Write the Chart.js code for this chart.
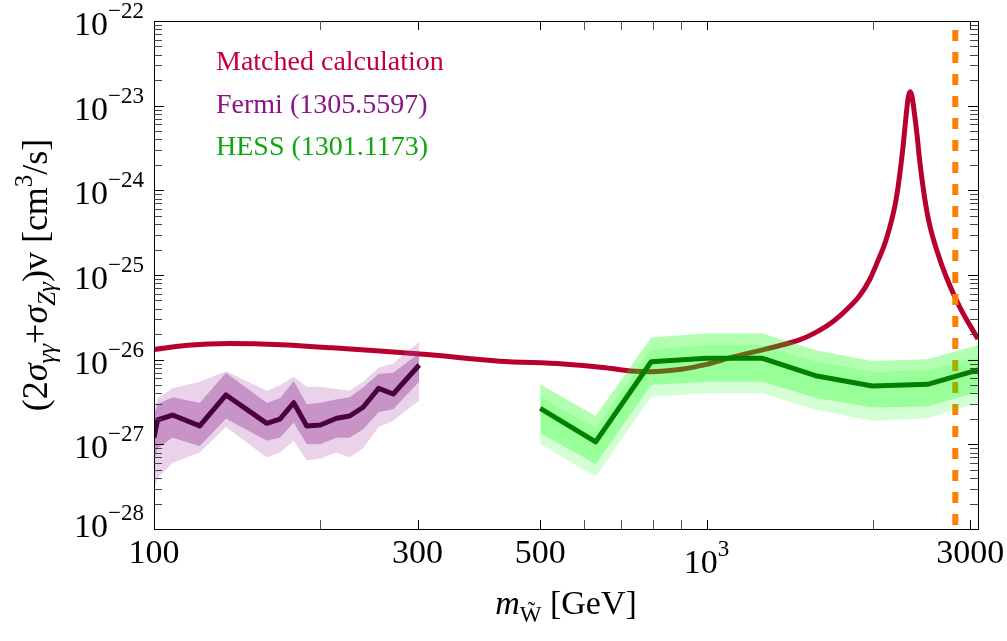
<!DOCTYPE html>
<html>
<head>
<meta charset="utf-8">
<script src="https://cdn.jsdelivr.net/npm/chart.js@4.4.1/dist/chart.umd.min.js"></script>
<style>
  html, body { margin: 0; padding: 0; background: #fff; }
</style>
</head>
<body>
<canvas id="plot" width="1007" height="641"></canvas>
<script>
// matched calculation (red curve)
const redMass = [100, 115, 137, 170, 210, 260, 316, 422, 550, 650, 730, 790, 900, 1000, 1114, 1284, 1473, 1568, 1690, 1798, 1891, 1972, 2038, 2113, 2203, 2265, 2303, 2319, 2336, 2348, 2359, 2378, 2408, 2428, 2479, 2532, 2617, 2716, 2867, 3100];
const redValue = [1.32e-26, 1.48e-26, 1.55e-26, 1.5e-26, 1.38e-26, 1.26e-26, 1.14e-26, 9.6e-27, 8.9e-27, 8.1e-27, 7.35e-27, 7.2e-27, 7.7e-27, 8.8e-27, 1.07e-26, 1.34e-26, 1.71e-26, 2.06e-26, 2.79e-26, 3.97e-26, 5.65e-26, 8.73e-26, 1.42e-25, 2.59e-25, 7.7e-25, 3.0e-24, 8.88e-24, 1.27e-23, 1.46e-23, 1.37e-23, 1.2e-23, 8.19e-24, 4.15e-24, 2.41e-24, 8.57e-25, 4.0e-25, 1.87e-25, 9.47e-26, 4.3e-26, 1.75e-26];

// Fermi limit with 1 and 2 sigma bands
const fermiMass = [100, 101.5, 108, 121, 135, 160, 169, 179, 189, 200, 214, 226, 239, 255, 271, 302];
const fermiLine = [1.2e-27, 1.94e-27, 2.22e-27, 1.65e-27, 3.83e-27, 1.77e-27, 1.98e-27, 3.1e-27, 1.65e-27, 1.69e-27, 2.03e-27, 2.16e-27, 2.74e-27, 4.59e-27, 3.93e-27, 8.65e-27];
const fermiHi2 = [2.6e-27, 3.5e-27, 4.6e-27, 5.5e-27, 7.3e-27, 4.3e-27, 5.0e-27, 6.3e-27, 4.8e-27, 4.8e-27, 4.5e-27, 4.3e-27, 5.5e-27, 8.0e-27, 9.0e-27, 1.63e-26];
const fermiHi1 = [2.2e-27, 3.0e-27, 3.6e-27, 3.1e-27, 7.0e-27, 3.1e-27, 3.5e-27, 5.6e-27, 3.0e-27, 3.1e-27, 3.4e-27, 3.6e-27, 4.7e-27, 6.8e-27, 7.0e-27, 1.2e-26];
const fermiLo1 = [6.5e-28, 9e-28, 1.2e-27, 9.5e-28, 2.0e-27, 1.1e-27, 1.2e-27, 1.8e-27, 1.0e-27, 1.0e-27, 1.2e-27, 1.2e-27, 1.5e-27, 2.4e-27, 2.6e-27, 5.5e-27];
const fermiLo2 = [3.1e-28, 4e-28, 6e-28, 8e-28, 1.6e-27, 7e-28, 8e-28, 1.1e-27, 6.5e-28, 6.8e-28, 8e-28, 7e-28, 9e-28, 1.6e-27, 1.9e-27, 3.3e-27];

// HESS limit with 1 and 2 sigma bands
const hessMass = [500, 630, 794, 1000, 1259, 1585, 1995, 2512, 3100];
const hessLine = [2.66e-27, 1.07e-27, 9.46e-27, 1.04e-26, 1.04e-26, 6.41e-27, 4.89e-27, 5.12e-27, 7.55e-27];
const hessHi2 = [5.11e-27, 2.16e-27, 1.83e-26, 2.05e-26, 2.05e-26, 1.28e-26, 9.64e-27, 1.01e-26, 1.49e-26];
const hessHi1 = [3.72e-27, 1.57e-27, 1.34e-26, 1.49e-26, 1.49e-26, 9.47e-27, 7.21e-27, 7.55e-27, 1.08e-26];
const hessLo1 = [1.35e-27, 5.86e-28, 5.02e-27, 5.5e-27, 5.5e-27, 3.49e-27, 2.73e-27, 2.79e-27, 4.19e-27];
const hessLo2 = [1.01e-27, 4.15e-28, 3.66e-27, 4.0e-27, 4.0e-27, 2.54e-27, 1.89e-27, 2.03e-27, 3.05e-27];

// vertical dashed line
const limitMass = [2820];

// axes
const xTickValues = [100, 300, 500, 1000, 3000];
const xTickText = ['100', '300', '500', '10^3', '3000'];
const xTickMarks = [200, 300, 500, 600, 700, 800, 900, 1000, 2000, 3000];
const yTickValues = [1e-28, 1e-27, 1e-26, 1e-25, 1e-24, 1e-23, 1e-22];
const yTickText = ['10^\u221228', '10^\u221227', '10^\u221226', '10^\u221225', '10^\u221224', '10^\u221223', '10^\u221222'];

const legendText = ['Matched calculation', 'Fermi (1305.5597)', 'HESS (1301.1173)'];
const legendColor = ['#c4003a', '#8a128a', '#12a612'];

const serif = '"Liberation Serif", "DejaVu Serif", serif';
const clear = 'rgba(0,0,0,0)';

function pts(xs, ys) {
    return xs.map((x, i) => ({ x: x, y: ys[i] }));
}

function band(xs, ys, fill, color) {
    return {
        data: pts(xs, ys),
        borderColor: clear,
        borderWidth: 0,
        backgroundColor: color,
        fill: fill,
        pointRadius: 0
    };
}

// draw a row of text pieces [{t, f, dy}] starting at x
function drawRuns(ctx, parts, x, y, align) {
    let total = 0;
    parts.forEach(p => { ctx.font = p.f; p.w = ctx.measureText(p.t).width; total += p.w; });
    let cx = x;
    if (align === 'center') cx = x - total / 2;
    if (align === 'right') cx = x - total;
    parts.forEach(p => {
        ctx.font = p.f;
        ctx.fillText(p.t, cx, y + (p.dy || 0));
        cx += p.w;
    });
}

function powerParts(txt) {
    const s = txt.split('^');
    const parts = [{ t: s[0], f: '34px ' + serif }];
    if (s[1]) parts.push({ t: s[1], f: '23px ' + serif, dy: -17 });
    return parts;
}

const framePlugin = {
    id: 'frame',
    afterDraw(chart) {
        const { ctx, chartArea: a, scales: { x, y } } = chart;
        ctx.save();
        ctx.strokeStyle = '#000';
        ctx.lineWidth = 1;
        ctx.strokeRect(a.left + 0.5, a.top + 0.5, a.right - a.left, a.bottom - a.top);

        // x ticks (bottom and top, inward)
        xTickMarks.forEach(m => {
            const px = Math.round(x.getPixelForValue(m)) + 0.5;
            ctx.strokeStyle = [300, 500, 1000, 3000].includes(m) ? '#000' : '#555';
            ctx.beginPath();
            ctx.moveTo(px, a.bottom); ctx.lineTo(px, a.bottom - 9);
            ctx.moveTo(px, a.top); ctx.lineTo(px, a.top + 9);
            ctx.stroke();
        });

        // y ticks (left and right, inward)
        for (let d = -28; d < -22; d++) {
            for (let k = 1; k <= 9; k++) {
                const v = k * Math.pow(10, d);
                const py = Math.round(y.getPixelForValue(v)) + 0.5;
                const len = k === 1 ? 10 : 8;
                ctx.strokeStyle = k === 1 ? '#000' : '#444';
                ctx.beginPath();
                ctx.moveTo(a.left, py); ctx.lineTo(a.left + len, py);
                ctx.moveTo(a.right, py); ctx.lineTo(a.right - len, py);
                ctx.stroke();
            }
        }

        // tick labels
        ctx.fillStyle = '#000';
        ctx.textBaseline = 'alphabetic';
        xTickValues.forEach((m, i) => {
            const px = x.getPixelForValue(m);
            const sup = xTickText[i].includes('^');
            drawRuns(ctx, powerParts(xTickText[i]), px, sup ? 573 : 563, 'center');
        });
        yTickValues.forEach((v, i) => {
            let py = y.getPixelForValue(v) + 14;
            if (i === 0) py -= 6;
            drawRuns(ctx, powerParts(yTickText[i]), 144, py, 'right');
        });

        // axis titles
        const n = '34px ' + serif, it = 'italic 34px ' + serif;
        const sn = '23px ' + serif;
        drawRuns(ctx, [
            { t: 'm', f: it },
            { t: 'W\u0303', f: sn, dy: 8 },
            { t: ' [GeV]', f: n }
        ], (x.left + x.right) / 2, 614, 'center');

        const yn = '36px ' + serif, yi = 'italic 36px ' + serif;
        const ys = '25px ' + serif, ysi = 'italic 25px ' + serif;
        ctx.save();
        ctx.translate(47, (a.top + a.bottom) / 2);
        ctx.rotate(-Math.PI / 2);
        drawRuns(ctx, [
            { t: '(2', f: yn },
            { t: '\u03c3', f: yi },
            { t: '\u03b3\u03b3', f: ysi, dy: 8 },
            { t: '+', f: yn },
            { t: '\u03c3', f: yi },
            { t: 'Z\u03b3', f: ysi, dy: 8 },
            { t: ')v [cm', f: yn },
            { t: '3', f: ys, dy: -15 },
            { t: '/s]', f: yn }
        ], 0, 0, 'center');
        ctx.restore();

        // legend
        ctx.font = '28px ' + serif;
        legendText.forEach((t, i) => {
            ctx.fillStyle = legendColor[i];
            ctx.fillText(t, 216, 70 + i * 42.5);
        });
        ctx.restore();
    }
};

const datasets = [
    { data: pts(hessMass, hessLine), borderColor: '#008000', borderWidth: 5, fill: false, pointRadius: 0, borderJoinStyle: 'round' },
    { data: pts(fermiMass, fermiLine), borderColor: '#4b0042', borderWidth: 5, fill: false, pointRadius: 0, borderJoinStyle: 'round' },
    band(hessMass, hessHi2, '+1', 'rgba(0,255,0,0.3)'),
    band(hessMass, hessHi1, '+1', 'rgba(0,255,0,0.4)'),
    band(hessMass, hessLo1, '+1', 'rgba(0,255,0,0.17)'),
    band(hessMass, hessLo2, false, clear),
    band(fermiMass, fermiHi2, '+1', 'rgba(170,80,170,0.25)'),
    band(fermiMass, fermiHi1, '+1', 'rgba(150,50,150,0.52)'),
    band(fermiMass, fermiLo1, '+1', 'rgba(170,80,170,0.25)'),
    band(fermiMass, fermiLo2, false, clear),
    { data: [{ x: limitMass[0], y: 1e-22 }, { x: limitMass[0], y: 1e-28 }], borderColor: '#ff8000', borderWidth: 6, borderDash: [11, 11], borderDashOffset: 13, borderCapStyle: 'butt', fill: false, pointRadius: 0 },
    { data: pts(redMass, redValue), borderColor: '#b8002e', borderWidth: 5, fill: false, pointRadius: 0, cubicInterpolationMode: 'monotone' }
];

new Chart(document.getElementById('plot'), {
    type: 'line',
    data: { datasets: datasets },
    options: {
        responsive: false,
        animation: false,
        layout: { padding: { left: 154, top: 21, right: 29, bottom: 112 } },
        plugins: { legend: { display: false }, tooltip: { enabled: false } },
        scales: {
            x: {
                type: 'logarithmic', min: 100, max: 3100,
                ticks: { display: false }, grid: { display: false }, border: { display: false },
                afterFit(s) { s.height = 0; }
            },
            y: {
                type: 'logarithmic', min: 1e-28, max: 1e-22,
                ticks: { display: false }, grid: { display: false }, border: { display: false },
                afterFit(s) { s.width = 0; }
            }
        }
    },
    plugins: [framePlugin]
});
</script>
</body>
</html>
